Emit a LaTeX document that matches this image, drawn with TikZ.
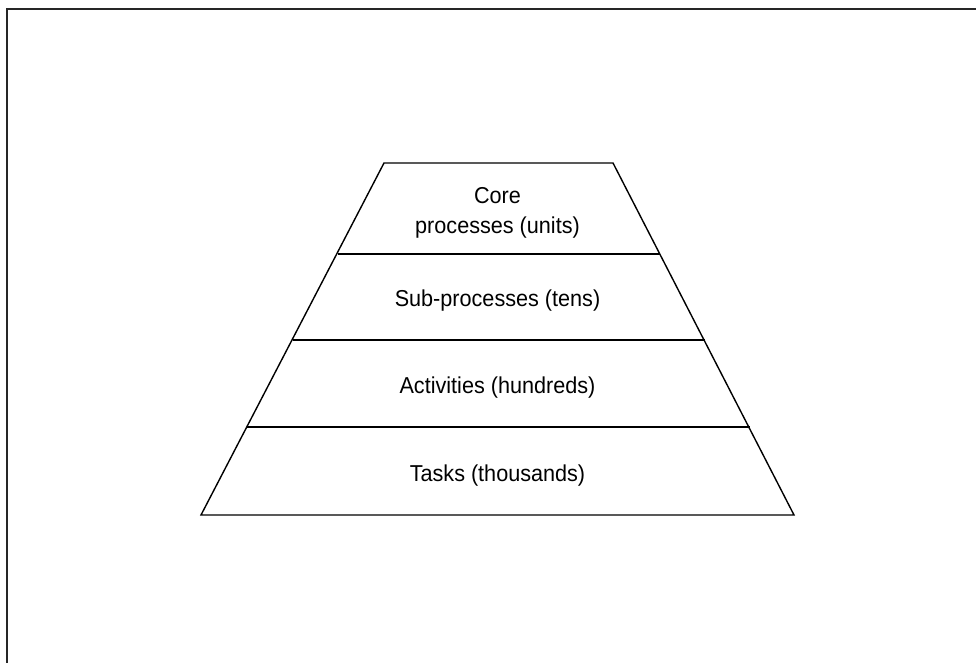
\documentclass[tikz,border=0pt]{standalone}
\usepackage{fontspec}
\setmainfont[FakeStretch=0.94]{Liberation Sans}
\usepackage{tikz}

\begin{document}
\begin{tikzpicture}[x=1pt, y=-1pt, line width=1.4pt,
    band/.style={font=\fontsize{23}{30}\selectfont, align=center}]
  \useasboundingbox (0,0) rectangle (976,663);
  \draw[line width=2pt, black!85] (6.5,663) -- (6.5,9.5) -- (976,9.5);
  % pyramid corners
  \coordinate (L0) at (384,163);   \coordinate (R0) at (613,163);
  \coordinate (L1) at (337.5,254); \coordinate (R1) at (659.5,254);
  \coordinate (L2) at (292.5,340); \coordinate (R2) at (704.5,340);
  \coordinate (L3) at (247,427);   \coordinate (R3) at (749.5,427);
  \coordinate (L4) at (201,515);   \coordinate (R4) at (794,515);
  \draw (L0) -- (R0) -- (R4) -- (L4) -- cycle;
  \draw (L1) -- (R1);
  \draw (L2) -- (R2);
  \draw (L3) -- (R3);
  \node[band] (core) at (497.5,213) {Core\\processes (units)};
  \node[band] (sub) at (497.5,301) {Sub-processes (tens)};
  \node[band] (act) at (497.5,388) {Activities (hundreds)};
  \node[band] (task) at (497.5,476) {Tasks (thousands)};
\end{tikzpicture}
\end{document}
